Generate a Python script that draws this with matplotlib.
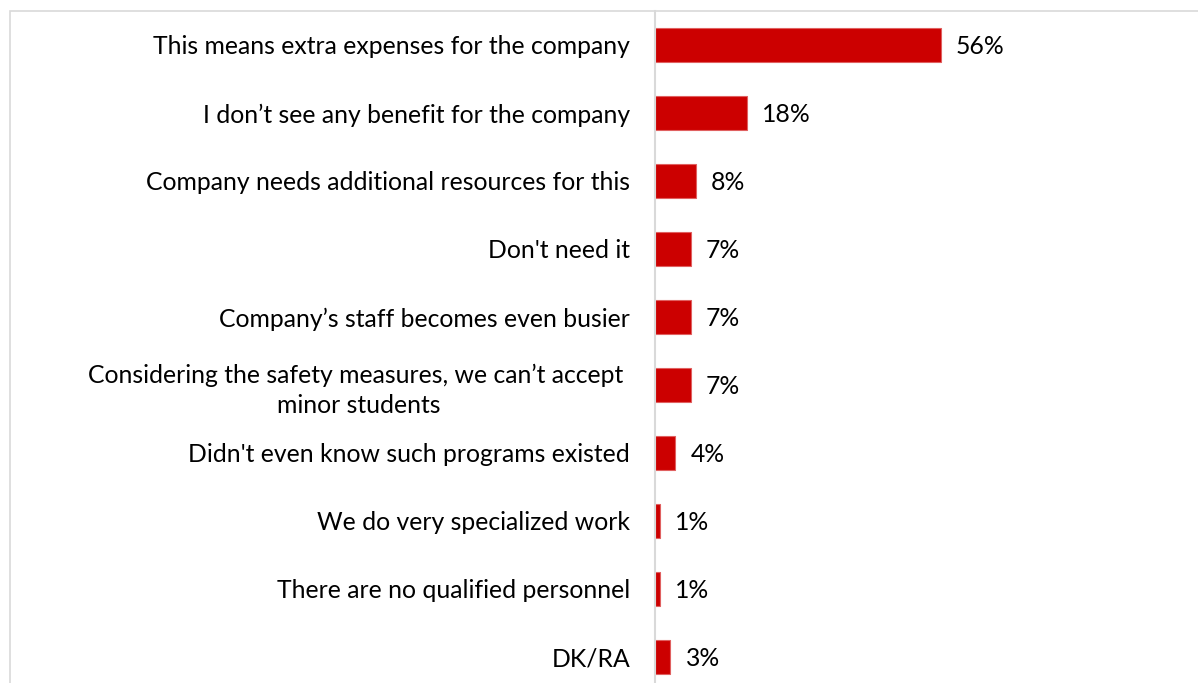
import matplotlib.pyplot as plt
from matplotlib.patches import Rectangle

reasons = [
    "This means extra expenses for the company",
    "I don\u2019t see any benefit for the company",
    "Company needs additional resources for this",
    "Don't need it",
    "Company\u2019s staff becomes even busier",
    "Considering the safety measures, we can\u2019t accept \nminor students",
    "Didn't even know such programs existed",
    "We do very specialized work",
    "There are no qualified personnel",
    "DK/RA",
]
shares = [56, 18, 8, 7, 7, 7, 4, 1, 1, 3]

plt.rcParams['font.family'] = ['Lato', 'DejaVu Sans']

W, H = 1198, 683
fig = plt.figure(figsize=(W / 100, H / 100), dpi=100)

# plot area: value axis starts at x=655px, top at y=11px, runs off the right/bottom edge
left, top = 655, 11
ax = fig.add_axes([left / W, 0, 1 - left / W, 1 - top / H])

pos = list(range(len(reasons)))
ax.barh(pos, shares, height=0.49, color='#CC0000', edgecolor='#E06060', linewidth=0.8)

px_per_pct = 5.1
ax.set_xlim(0, (W - left) / px_per_pct)
rows_visible = (H - top) / 68
ax.set_ylim(-0.5 + rows_visible, -0.5)

for y, v in zip(pos, shares):
    ax.annotate(f"{v}%", (v, y), xytext=(11, -1), textcoords='offset points',
                va='center', ha='left', fontsize=17.8, color='black')

ax.set_yticks(pos)
ax.set_yticklabels(reasons, fontsize=17.8, multialignment='center', linespacing=1.35)
ax.tick_params(axis='y', length=0, pad=18)
ax.set_xticks([])
for s in ['top', 'right', 'bottom']:
    ax.spines[s].set_visible(False)
ax.spines['left'].set_color('#D9D9D9')
ax.spines['left'].set_linewidth(1.5)

# chart-area border
fig.patches.append(Rectangle((10 / W, -0.1), 1.2, 1 - top / H + 0.1,
                             transform=fig.transFigure, fill=False,
                             edgecolor='#D9D9D9', linewidth=1.2))

fig.savefig('out.png', dpi=100)
